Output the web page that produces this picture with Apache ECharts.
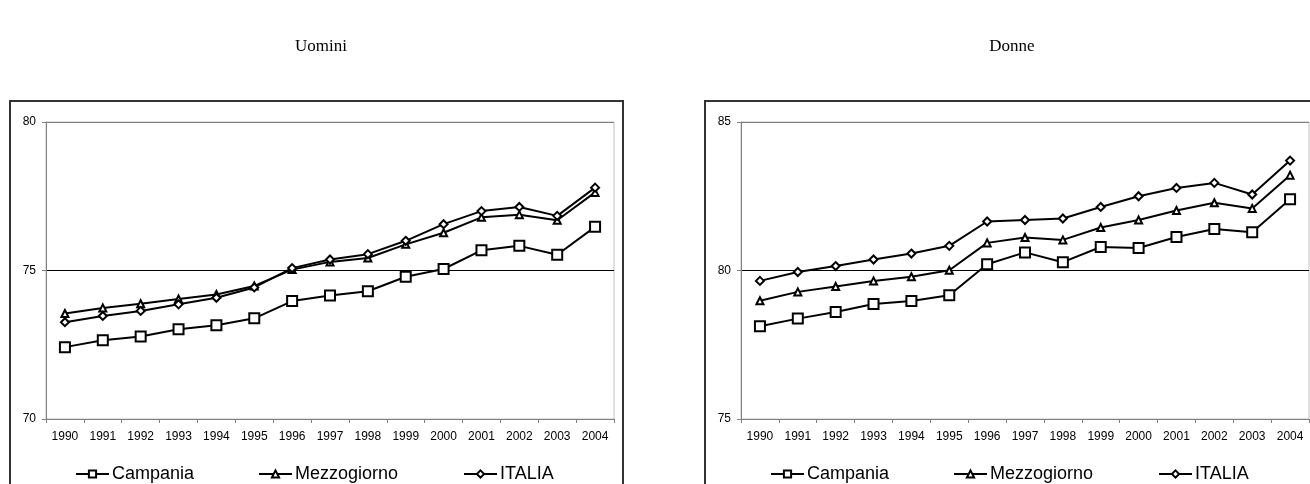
<!DOCTYPE html>
<html>
<head>
<meta charset="utf-8">
<script src="https://cdn.jsdelivr.net/npm/echarts@6/dist/echarts.min.js"></script>
<style>
  html, body { margin: 0; padding: 0; background: #fff; }
  #chart { width: 1310px; height: 484px; }
</style>
</head>
<body>
<div id="chart"></div>
<script>
// Speranza di vita alla nascita, 1990-2004
const years = ['1990','1991','1992','1993','1994','1995','1996','1997','1998','1999','2000','2001','2002','2003','2004'];

// Uomini
const uominiCampania    = [72.42, 72.65, 72.78, 73.02, 73.16, 73.39, 73.97, 74.16, 74.30, 74.79, 75.05, 75.68, 75.83, 75.53, 76.47];
const uominiMezzogiorno = [73.55, 73.74, 73.88, 74.04, 74.19, 74.48, 75.03, 75.29, 75.42, 75.88, 76.27, 76.79, 76.88, 76.69, 77.63];
const uominiItalia      = [73.26, 73.47, 73.64, 73.86, 74.08, 74.43, 75.08, 75.37, 75.55, 76.00, 76.56, 77.00, 77.14, 76.84, 77.79];

// Donne
const donneCampania    = [78.12, 78.38, 78.60, 78.87, 78.97, 79.17, 80.21, 80.61, 80.28, 80.79, 80.76, 81.13, 81.40, 81.29, 82.40];
const donneMezzogiorno = [78.98, 79.28, 79.46, 79.65, 79.79, 80.01, 80.93, 81.11, 81.03, 81.45, 81.70, 82.02, 82.28, 82.09, 83.21];
const donneItalia      = [79.65, 79.95, 80.15, 80.37, 80.57, 80.83, 81.65, 81.70, 81.75, 82.14, 82.50, 82.78, 82.95, 82.56, 83.70];

const uominiTicks = [70, 75, 80];
const donneTicks  = [75, 80, 85];

const titles = ['Uomini', 'Donne'];
const seriesNames = ['Campania', 'Mezzogiorno', 'ITALIA'];

const chart = echarts.init(document.getElementById('chart'), null, { renderer: 'canvas' });

const panelLeft = [46, 741];
const plotTop = 122, plotW = 568, plotH = 297;

const symbolFor = { 'Campania': 'emptyRect', 'Mezzogiorno': 'emptyTriangle', 'ITALIA': 'emptyDiamond' };
const sizeFor   = { 'Campania': 10, 'Mezzogiorno': 7, 'ITALIA': 8 };

function makeSeries(name, data, idx) {
  return {
    name: name,
    type: 'line',
    xAxisIndex: idx,
    yAxisIndex: idx,
    data: data,
    symbol: symbolFor[name],
    symbolSize: sizeFor[name],
    showAllSymbol: true,
    lineStyle: { color: '#000', width: 2 },
    itemStyle: { color: '#000', borderColor: '#000', borderWidth: 1 },
    emphasis: { disabled: true },
    animation: false,
    z: 3
  };
}

function makeXAxis(idx) {
  return {
    type: 'category',
    gridIndex: idx,
    data: years,
    boundaryGap: true,
    axisLine: { lineStyle: { color: '#808080', width: 1 } },
    axisTick: { show: true, interval: 0, length: 4, inside: false, lineStyle: { color: '#808080' } },
    axisLabel: { interval: 0, color: '#000', fontFamily: 'Liberation Sans, Arial, sans-serif', fontSize: 12, margin: 12 },
    splitLine: { show: false }
  };
}

function makeYAxis(idx, ticks) {
  return {
    type: 'value',
    gridIndex: idx,
    min: ticks[0],
    max: ticks[ticks.length - 1],
    interval: ticks[1] - ticks[0],
    axisLine: { show: true, lineStyle: { color: '#808080', width: 1 } },
    axisTick: { show: true, length: 4, inside: false, lineStyle: { color: '#808080' } },
    axisLabel: { color: '#000', fontFamily: 'Liberation Sans, Arial, sans-serif', fontSize: 12, margin: 10 },
    splitLine: { show: true, lineStyle: { color: ['#808080', '#000000', '#808080'], width: 1 } }
  };
}

function makeLegend(name, left) {
  return {
    data: [name],
    left: left,
    top: 465,
    itemWidth: 33,
    itemHeight: 9,
    itemGap: 0,
    padding: 0,
    selectedMode: false,
    textStyle: { color: '#000', fontFamily: 'Liberation Sans, Arial, sans-serif', fontSize: 18, padding: [0, 0, 0, -2] }
  };
}

const legendOffsets = [29, 212, 417];
const titleCenterX = [321, 1012];

const option = {
  backgroundColor: '#fff',
  animation: false,
  grid: panelLeft.map(l => ({
    left: l, top: plotTop, width: plotW, height: plotH,
    show: true, borderColor: '#c0c0c0', borderWidth: 1, backgroundColor: 'transparent'
  })),
  xAxis: [makeXAxis(0), makeXAxis(1)],
  yAxis: [makeYAxis(0, uominiTicks), makeYAxis(1, donneTicks)],
  legend: [],
  series: [
    makeSeries('Campania', uominiCampania, 0),
    makeSeries('Mezzogiorno', uominiMezzogiorno, 0),
    makeSeries('ITALIA', uominiItalia, 0),
    makeSeries('Campania', donneCampania, 1),
    makeSeries('Mezzogiorno', donneMezzogiorno, 1),
    makeSeries('ITALIA', donneItalia, 1)
  ],
  graphic: [
    // outer frames of the two panels
    { type: 'rect', shape: { x: 10, y: 101, width: 613, height: 420 }, style: { fill: 'none', stroke: '#333', lineWidth: 2 }, silent: true, z: 0 },
    { type: 'rect', shape: { x: 705, y: 101, width: 640, height: 420 }, style: { fill: 'none', stroke: '#333', lineWidth: 2 }, silent: true, z: 0 }
  ]
};

// panel titles
titles.forEach((t, i) => option.graphic.push({
  type: 'text',
  style: { text: t, fontFamily: 'Liberation Serif, Times New Roman, serif', fontSize: 17, fill: '#000', textAlign: 'center', textVerticalAlign: 'middle', x: titleCenterX[i], y: 47 },
  silent: true
}));

// one legend per entry so each can sit at its own position
panelLeft.forEach(pl => seriesNames.forEach((n, i) => option.legend.push(makeLegend(n, pl + legendOffsets[i]))));

chart.setOption(option);
</script>
</body>
</html>
